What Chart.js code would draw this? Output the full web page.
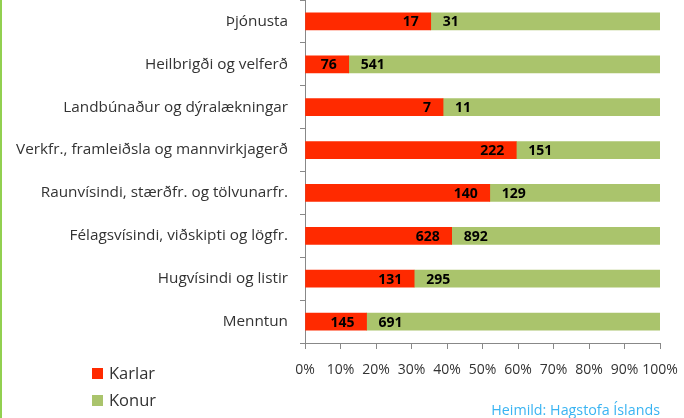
<!DOCTYPE html>
<html>
<head>
<meta charset="utf-8">
<script src="https://cdn.jsdelivr.net/npm/chart.js@4"></script>
<style>
html,body{margin:0;padding:0;background:#fff;}
#wrap{width:684px;height:418px;position:relative;}
</style>
</head>
<body>
<div id="wrap"><canvas id="c" width="684" height="418"></canvas></div>
<script>
const categories = [
  "Þjónusta",
  "Heilbrigði og velferð",
  "Landbúnaður og dýralækningar",
  "Verkfr., framleiðsla og mannvirkjagerð",
  "Raunvísindi, stærðfr. og tölvunarfr.",
  "Félagsvísindi, viðskipti og lögfr.",
  "Hugvísindi og listir",
  "Menntun"
];
const karlar = [17, 76, 7, 222, 140, 628, 131, 145];
const konur  = [31, 541, 11, 151, 129, 892, 295, 691];
const xTicks = [0, 10, 20, 30, 40, 50, 60, 70, 80, 90, 100];
const seriesNames = ["Karlar", "Konur"];
const sourceText = "Heimild: Hagstofa Íslands";

const karlarPct = karlar.map((v, i) => v / (v + konur[i]) * 100);
const konurPct = konur.map((v, i) => v / (v + karlar[i]) * 100);
const counts = [karlar, konur];

const RED = "#FF2A00";
const GREEN = "#AAC46C";
const TEXT = "#333333";
const FONT = "'Open Sans', 'DejaVu Sans', sans-serif";

const extras = {
  id: "extras",
  afterDatasetsDraw(chart) {
    const ctx = chart.ctx;
    ctx.save();
    ctx.font = "bold 14px " + FONT;
    ctx.fillStyle = "#000";
    ctx.textBaseline = "middle";
    chart.data.datasets.forEach((ds, di) => {
      const meta = chart.getDatasetMeta(di);
      meta.data.forEach((el, i) => {
        const txt = String(counts[di][i]);
        if (di === 0) {
          ctx.textAlign = "right";
          ctx.fillText(txt, el.x - 12, el.y + 1);
        } else {
          ctx.textAlign = "left";
          ctx.fillText(txt, el.base + 12, el.y + 1);
        }
      });
    });
    ctx.restore();
  },
  afterDraw(chart) {
    const ctx = chart.ctx;
    ctx.save();
    ctx.fillStyle = "#92D050";
    ctx.fillRect(0, 0, 2, 418);
    const colors = [RED, GREEN];
    ctx.font = "16.5px " + FONT;
    ctx.textBaseline = "middle";
    ctx.textAlign = "left";
    seriesNames.forEach((n, i) => {
      const y = 368 + i * 27;
      ctx.fillStyle = colors[i];
      ctx.fillRect(92, y, 11, 11);
      ctx.fillStyle = TEXT;
      ctx.fillText(n, 109, y + 6);
    });
    ctx.font = "14.3px " + FONT;
    ctx.fillStyle = "#3AB4F2";
    ctx.textAlign = "right";
    ctx.fillText(sourceText, 660, 411);
    ctx.restore();
  }
};

new Chart(document.getElementById("c"), {
  type: "bar",
  data: {
    labels: categories,
    datasets: [
      { label: seriesNames[0], data: karlarPct, backgroundColor: RED, barThickness: 17 },
      { label: seriesNames[1], data: konurPct, backgroundColor: GREEN, barThickness: 17 }
    ]
  },
  options: {
    indexAxis: "y",
    responsive: false,
    animation: false,
    layout: { padding: { left: 0, right: 24, top: 0, bottom: 0 } },
    plugins: { legend: { display: false }, tooltip: { enabled: false } },
    scales: {
      x: {
        stacked: true,
        min: 0, max: 100,
        afterFit(s) { s.height = 75; s.paddingLeft = 0; s.paddingRight = 0; },
        afterBuildTicks(s) { s.ticks = xTicks.map(v => ({ value: v })); },
        grid: { drawOnChartArea: false, tickLength: 6, color: "#888", tickColor: "#888" },
        border: { color: "#888", width: 1 },
        ticks: {
          color: TEXT,
          font: { family: FONT, size: 14 },
          padding: 13,
          maxRotation: 0,
          autoSkip: false,
          callback: v => v + "%"
        }
      },
      y: {
        stacked: true,
        afterFit(s) { s.width = 305; s.paddingTop = 0; s.paddingBottom = 0; },
        grid: { drawOnChartArea: false, offset: true, tickLength: 5, color: "#888", tickColor: "#888" },
        border: { color: "#888", width: 1 },
        ticks: {
          color: TEXT,
          font: { family: FONT, size: 15.3 },
          padding: 12,
          autoSkip: false
        }
      }
    }
  },
  plugins: [extras]
});
</script>
</body>
</html>
